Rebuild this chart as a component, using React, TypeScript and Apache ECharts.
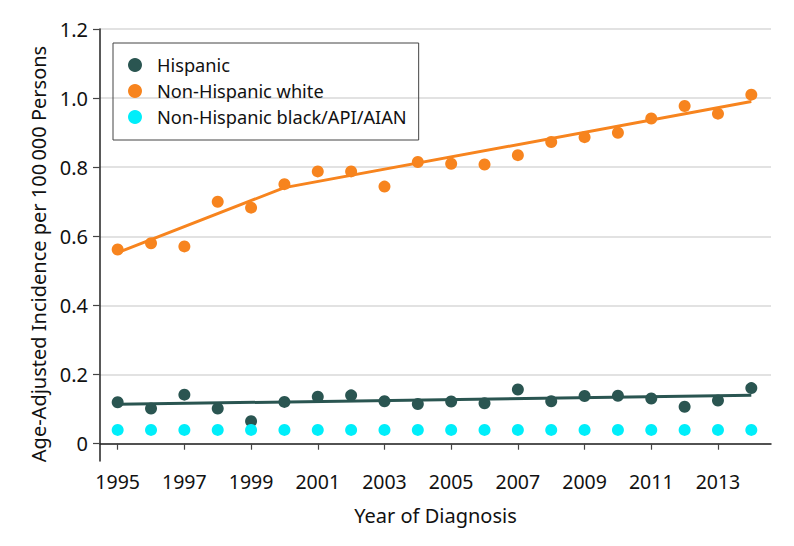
import React, { useEffect, useRef } from "react";
import * as echarts from "echarts";

const years = [1995, 1996, 1997, 1998, 1999, 2000, 2001, 2002, 2003, 2004, 2005, 2006, 2007, 2008, 2009, 2010, 2011, 2012, 2013, 2014];
const hispanic = [0.120, 0.102, 0.142, 0.102, 0.065, 0.121, 0.136, 0.140, 0.123, 0.115, 0.122, 0.117, 0.157, 0.123, 0.138, 0.139, 0.131, 0.107, 0.125, 0.161];
const nhWhite = [0.562, 0.580, 0.571, 0.700, 0.683, 0.751, 0.788, 0.788, 0.744, 0.815, 0.810, 0.808, 0.835, 0.873, 0.887, 0.900, 0.941, 0.977, 0.955, 1.010];
const nhOther = [0.04, 0.04, 0.04, 0.04, 0.04, 0.04, 0.04, 0.04, 0.04, 0.04, 0.04, 0.04, 0.04, 0.04, 0.04, 0.04, 0.04, 0.04, 0.04, 0.04];

const whiteFitYears = [1995, 2000, 2014];
const whiteFit = [0.553, 0.741, 0.990];
const hispFitYears = [1995, 2014];
const hispFit = [0.114, 0.140];

const xTickLabels = [1995, 1997, 1999, 2001, 2003, 2005, 2007, 2009, 2011, 2013];
const yTickLabels = [0, 0.2, 0.4, 0.6, 0.8, 1.0, 1.2];

const seriesNames = ["Hispanic", "Non-Hispanic white", "Non-Hispanic black/API/AIAN"];
const colors = ["#2a5551", "#f7841e", "#00eefa"];

const FONT = "'Noto Sans', 'DejaVu Sans', sans-serif";

export default function App() {
  const ref = useRef<HTMLDivElement>(null);
  useEffect(() => {
    if (!ref.current) return;
    const chart = echarts.init(ref.current, undefined, { renderer: "svg" });
    const pair = (xs: number[], ys: number[]) => xs.map((x, i) => [x, ys[i]]);
    chart.setOption({
      animation: false,
      backgroundColor: "#ffffff",
      textStyle: { fontFamily: FONT },
      grid: { left: 100, right: 23, top: 29, bottom: 85, containLabel: false, outerBoundsMode: "none" },
      legend: {
        data: seriesNames,
        orient: "vertical",
        left: 113,
        top: 43,
        icon: "circle",
        itemWidth: 34,
        itemHeight: 14,
        itemGap: 8,
        padding: [13, 12, 14, 15],
        borderColor: "#444",
        borderWidth: 1,
        textStyle: { fontFamily: FONT, fontSize: 18.2, color: "#111", lineHeight: 18 },
      },
      xAxis: {
        type: "value",
        min: 1994.47,
        max: 2014.59,
        name: "Year of Diagnosis",
        nameLocation: "middle",
        nameGap: 44,
        nameTextStyle: { fontFamily: FONT, fontSize: 20, color: "#111" },
        axisLine: { show: true, lineStyle: { color: "#222", width: 1.5 } },
        axisTick: { show: true, length: 6, customValues: xTickLabels, lineStyle: { color: "#444", width: 1.2 } },
        axisLabel: {
          customValues: xTickLabels,
          margin: 10,
          fontFamily: FONT,
          fontSize: 19.5,
          color: "#111",
          formatter: (v: number) => String(v),
        },
        splitLine: { show: false },
      },
      yAxis: {
        type: "value",
        min: -0.05,
        max: 1.2,
        splitNumber: 6,
        name: "Age-Adjusted Incidence per 100\u2009000 Persons",
        nameLocation: "middle",
        nameGap: 50,
        nameTextStyle: { fontFamily: FONT, fontSize: 20, color: "#111", padding: [0, 18, 0, 0] },
        axisLine: { show: true, lineStyle: { color: "#222", width: 1.5 } },
        axisTick: { show: true, length: 7, customValues: yTickLabels, lineStyle: { color: "#444", width: 1.2 } },
        axisLabel: {
          customValues: yTickLabels,
          margin: 12,
          fontFamily: FONT,
          fontSize: 20,
          color: "#111",
          formatter: (v: number) => (v < 0 ? "" : v === 0 ? "0" : v.toFixed(1)),
        },
        splitLine: { show: true, lineStyle: { color: "#d9d9d9", width: 1.5 } },
      },
      series: [
        {
          name: "Hispanic fit",
          type: "line",
          data: pair(hispFitYears, hispFit),
          symbol: "none",
          lineStyle: { color: colors[0], width: 3 },
          z: 2,
        },
        {
          name: "Non-Hispanic white fit",
          type: "line",
          data: pair(whiteFitYears, whiteFit),
          symbol: "none",
          lineStyle: { color: colors[1], width: 3 },
          z: 2,
        },
        {
          name: seriesNames[0],
          type: "scatter",
          data: pair(years, hispanic),
          symbolSize: 12,
          itemStyle: { color: colors[0], opacity: 1 },
          z: 3,
        },
        {
          name: seriesNames[1],
          type: "scatter",
          data: pair(years, nhWhite),
          symbolSize: 12,
          itemStyle: { color: colors[1], opacity: 1 },
          z: 3,
        },
        {
          name: seriesNames[2],
          type: "scatter",
          data: pair(years, nhOther),
          symbolSize: 12,
          itemStyle: { color: colors[2], opacity: 1 },
          z: 3,
        },
      ],
    });
    return () => chart.dispose();
  }, []);
  return (
    <div
      ref={ref}
      style={{ position: "fixed", left: 0, top: 0, width: 794, height: 546, background: "#fff" }}
    />
  );
}
